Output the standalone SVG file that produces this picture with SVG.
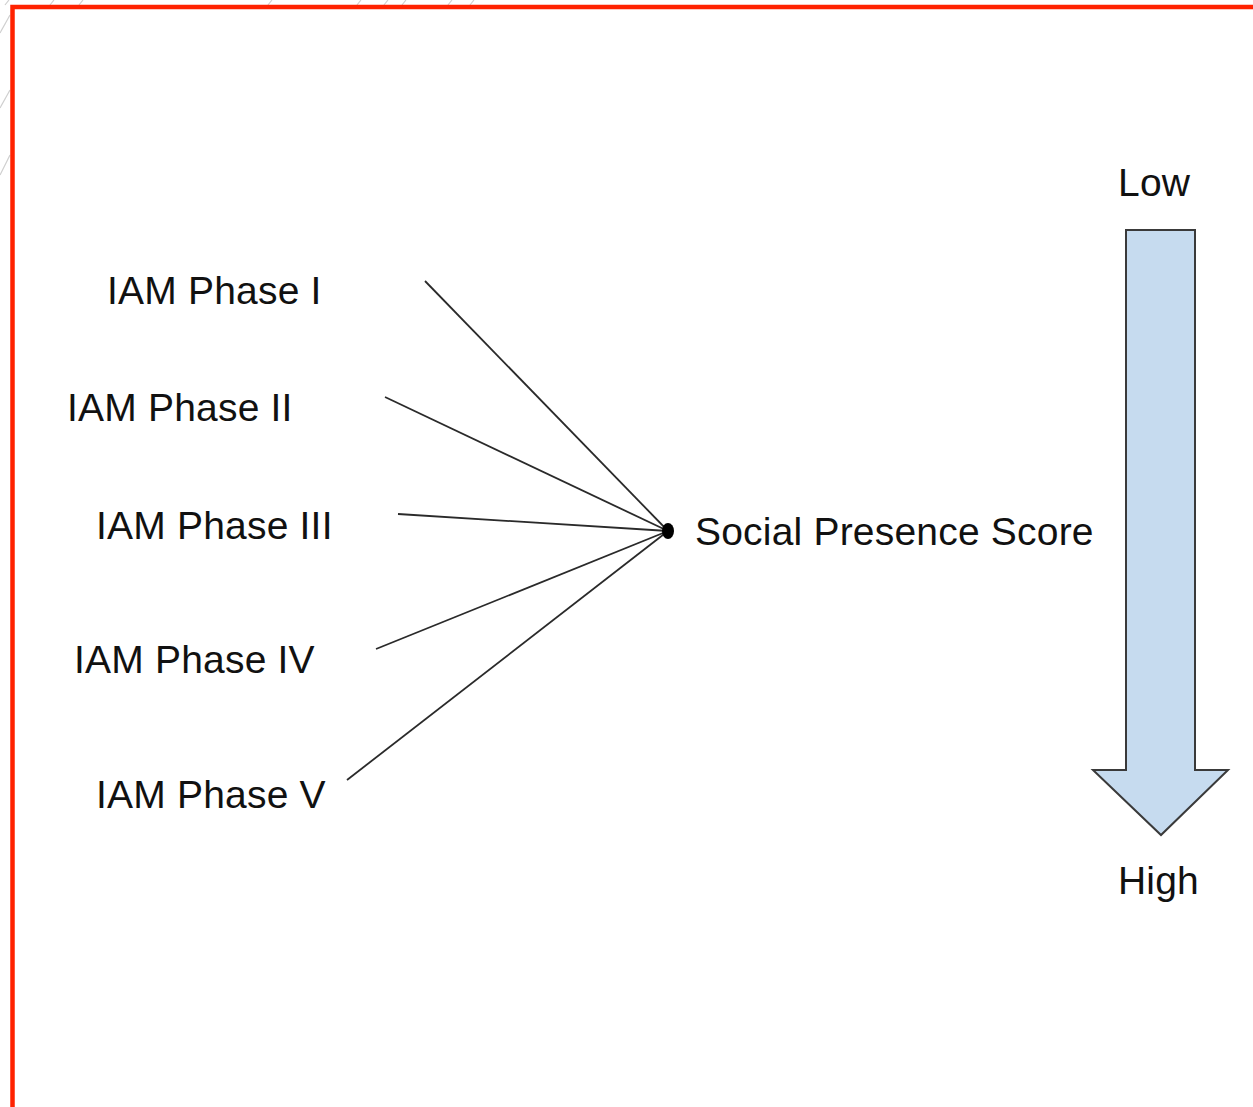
<svg xmlns="http://www.w3.org/2000/svg" width="1253" height="1107" viewBox="0 0 1253 1107">
<style>
.lbl{font-family:"Liberation Sans",Arial,sans-serif;font-size:39px;letter-spacing:0.2px;fill:#111}
.conn{stroke:#2a2a2a;stroke-width:1.8;fill:none}
.hatch{stroke:#cfcfcf;stroke-width:1.2}
</style>
<rect width="1253" height="1107" fill="#fff"/>
<g id="hatching">
<line class="hatch" x1="5" y1="5" x2="9" y2="0"/>
<line class="hatch" x1="50" y1="5" x2="54" y2="0"/>
<line class="hatch" x1="79" y1="5" x2="83" y2="0"/>
<line class="hatch" x1="268" y1="5" x2="272" y2="0"/>
<line class="hatch" x1="357" y1="5" x2="361" y2="0"/>
<line class="hatch" x1="384" y1="5" x2="388" y2="0"/>
<line class="hatch" x1="402" y1="5" x2="406" y2="0"/>
<line class="hatch" x1="448" y1="5" x2="452" y2="0"/>
<line class="hatch" x1="470" y1="5" x2="474" y2="0"/>
<line class="hatch" x1="0" y1="33" x2="10" y2="15"/>
<line class="hatch" x1="0" y1="108" x2="10" y2="90"/>
<line class="hatch" x1="0" y1="175" x2="10" y2="155"/>
</g>
<g id="frame">
<polyline points="12.5,1107 12.5,7 1253,7" fill="none" stroke="#ff2200" stroke-width="4.5"/>
</g>
<g id="connectors">
<line class="conn" x1="425" y1="281" x2="668" y2="531"/>
<line class="conn" x1="385" y1="397" x2="668" y2="531"/>
<line class="conn" x1="398" y1="514" x2="668" y2="531"/>
<line class="conn" x1="376" y1="649" x2="668" y2="531"/>
<line class="conn" x1="347" y1="780" x2="668" y2="531"/>
</g>
<g id="phase1"><text class="lbl" x="107" y="304">IAM Phase I</text></g>
<g id="phase2"><text class="lbl" x="67" y="421">IAM Phase II</text></g>
<g id="phase3"><text class="lbl" x="96" y="539">IAM Phase III</text></g>
<g id="phase4"><text class="lbl" x="74" y="673">IAM Phase IV</text></g>
<g id="phase5"><text class="lbl" x="96" y="808">IAM Phase V</text></g>
<g id="hub">
<ellipse cx="668" cy="531" rx="6" ry="8" fill="#000"/>
<text class="lbl" x="695" y="545">Social Presence Score</text>
</g>
<g id="scale">
<polygon points="1126,230 1195,230 1195,770 1228,770 1161,835 1093,770 1126,770" fill="#c6dbef" stroke="#3a3a3a" stroke-width="2" stroke-linejoin="miter"/>
<text class="lbl" x="1118" y="196">Low</text>
<text class="lbl" x="1118" y="894">High</text>
</g>
</svg>
